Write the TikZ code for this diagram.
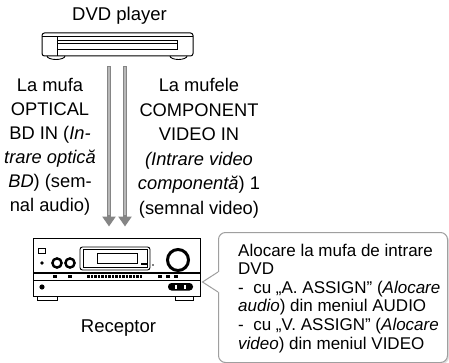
\documentclass[tikz,border=0pt]{standalone}
\usepackage{fontspec}
\setmainfont{Liberation Sans}
\usetikzlibrary{positioning,arrows.meta}

\tikzset{
  unit/.style={draw, line width=1pt, fill=white},
  cable/.style={draw=black!48, line width=4.6pt,
    -{Triangle[width=13pt,length=10pt]}},
  cablecore/.style={draw=black!28, line width=2pt},
  jack/.style={align=center, font=\fontsize{18.3}{24}\selectfont},
  caption/.style={font=\fontsize{18.5}{22}\selectfont},
  note/.style={draw=gray!75, line width=1pt, rounded corners=7pt, fill=white},
  notetext/.style={align=left, inner sep=0pt,
    font=\fontsize{17}{18.6}\selectfont}
}

\begin{document}
\begin{tikzpicture}[x=1pt,y=-1pt]
  \useasboundingbox (0,0) rectangle (449,363);

  % DVD player
  \node (dvdlabel) [caption, anchor=base] at (119.5,21) {DVD player};
  \node (dvd) [unit, rounded corners=2.5pt, minimum width=151pt,
    minimum height=23pt] at (117.5,44.5) {};
  \begin{scope}[shift={(dvd.center)}, line width=0.9pt]
    \draw (-75.5,-8) -- (75.5,-8);
    \draw (-60.5,-8) -- (-60.5,11.5);
    \draw (-60.5,-4.5) rectangle (59.5,5);
    \draw (-60.5,-1.5) -- (59.5,-1.5);
    \draw (-70.5,11.5) arc[start angle=180, end angle=0, x radius=9, y radius=3.5];
    \draw (52.5,11.5) arc[start angle=180, end angle=0, x radius=8.5, y radius=3.5];
  \end{scope}

  % receiver
  \node (rcv) [unit, minimum width=167pt, minimum height=58pt]
    at (116.5,267) {};
  \node (rcvlabel) [caption, anchor=base] at (118.5,332) {Receptor};
  \begin{scope}[shift={(rcv.center)}]
    \draw[line width=2.2pt] (-83.5,6) -- (83.5,6);
    \draw[line width=0.8pt] (-83.5,13) -- (83.5,13);
    \draw[line width=0.8pt] (-78.5,-19) rectangle (-71.5,-14);
    \fill (-74.5,-4) circle (1.8);
    \draw[line width=2.4pt] (-59.5,-4) circle (4.6);
    \draw[line width=2.4pt] (-46.5,-4) circle (4.6);
    \draw[line width=0.9pt, rounded corners=2.5pt] (-36.5,-20) rectangle (33.5,3);
    \draw[line width=0.7pt] (-33.5,-17.5) rectangle (30.5,0.5);
    \draw[line width=0.9pt] (-19.5,-14) rectangle (20.5,-4);
    \draw[line width=1.6pt] (24.5,-3) -- (30,-3);
    \fill (36.5,-2) circle (0.8);
    \draw[line width=3pt] (61.5,-7) circle (10.5);
    \foreach \bx in {-61.5,-46.5,43.5,51.5,59.5}
      \fill (\bx-1.6,8) rectangle (\bx+1.6,11);
    \foreach \bx in {-28,-24.5,...,26}
      \fill (\bx-1.1,8) rectangle (\bx+1.1,11);
    \fill (-74.5,20) circle (2.6);
    \fill[rounded corners=3.5pt] (51.5,16) rectangle (76.5,23.5);
    \fill[white] (58.5,17.8) rectangle (60.5,21.7);
    \fill[white] (67,17.8) rectangle (69,21.7);
    \draw[line width=0.9pt] (-79.5,29) rectangle (-59.5,33);
    \draw[line width=0.9pt] (58.5,29) rectangle (76.5,33);
  \end{scope}

  % cables from player to receiver
  \coordinate (optA) at ([xshift=-8.5pt, yshift=-10pt]dvd.south);
  \coordinate (cmpA) at ([xshift=7.5pt, yshift=-10pt]dvd.south);
  \foreach \c in {optA,cmpA} {
    \draw[cable, shorten >=11pt] (\c) -- (\c |- rcv.north);
    \draw[cablecore, shorten <=0.5pt, shorten >=22pt] (\c) -- (\c |- rcv.north);
  }

  \node (optical) [jack] at (50,146.8)
    {La mufa\\OPTICAL\\BD IN (\textit{In-}\\\textit{trare optică}\\
     \textit{BD}) (sem-\\nal audio)};
  \node (component) [jack, font=\fontsize{18.3}{24.6}\selectfont]
    at (199,148.3)
    {La mufele\\COMPONENT\\VIDEO IN\\\textit{(Intrare video}\\
     \textit{componentă}) 1\\(semnal video)};

  % assignment note with its pointer
  \fill[gray!25, rounded corners=7pt] (220,234) rectangle (449,364);
  \node (assign) [note, anchor=north west, minimum width=229pt,
    minimum height=130pt] at (218,232) {};
  \coordinate (ptr) at ([xshift=2pt, yshift=-15pt]rcv.east);
  \coordinate (ptrtop) at ([yshift=-40pt]assign.north west);
  \coordinate (ptrbot) at ([yshift=-60pt]assign.north west);
  \fill[white] (ptrtop) -- (ptr) -- (ptrbot) -- ([xshift=2pt]ptrbot)
    -- ([xshift=2pt]ptrtop) -- cycle;
  \draw[draw=gray!75, line width=1pt] (ptrtop) -- (ptr) -- (ptrbot);
  \node (assigntext) [notetext, anchor=north west] at (238,243.5)
    {Alocare la mufa de intrare\\DVD\\
     -\ \ cu „A. ASSIGN” (\textit{Alocare}\\
     \textit{audio}) din meniul AUDIO\\
     -\ \ cu „V. ASSIGN” (\textit{Alocare}\\
     \textit{video}) din meniul VIDEO};
\end{tikzpicture}
\end{document}
